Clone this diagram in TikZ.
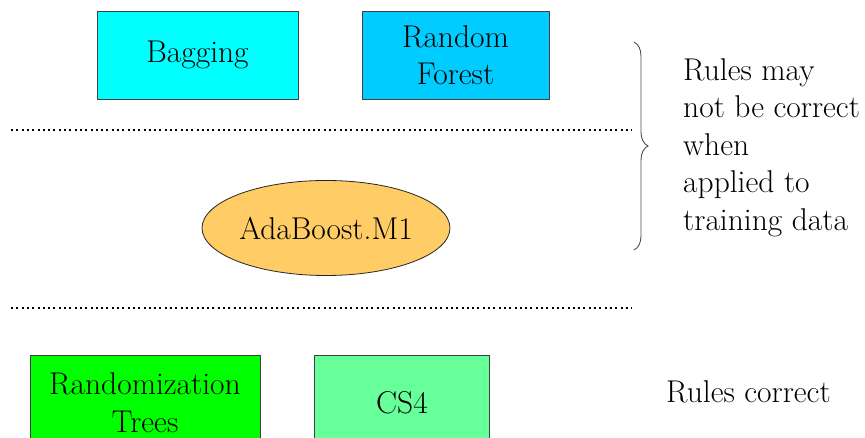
\documentclass[tikz,border=0pt]{standalone}
\usetikzlibrary{shapes.geometric,decorations.pathreplacing}
\definecolor{cBag}{RGB}{0,255,255}
\definecolor{cRF}{RGB}{0,204,255}
\definecolor{cAda}{RGB}{255,204,102}
\definecolor{cRT}{RGB}{0,255,0}
\definecolor{cCS}{RGB}{102,255,153}
\tikzset{
  x=1pt,y=1pt,
  every node/.style={font=\fontsize{31.5}{37.5}\selectfont, inner sep=0pt},
  boxnode/.style={draw=black!75, line width=0.8pt, rectangle, align=center},
  ellnode/.style={draw=black!85, line width=0.8pt, ellipse, align=center},
  sepline/.style={line width=2pt, dash pattern=on 2pt off 3.3pt},
  notetext/.style={align=left, anchor=north west}
}
\begin{document}
\begin{tikzpicture}
\useasboundingbox (0,0) rectangle (865,438);
\clip (0,0) rectangle (865,438);
\node[boxnode, fill=cBag, minimum width=201pt, minimum height=88pt] (bag) at (197.5,383) {Bagging};
\node[boxnode, fill=cRF, minimum width=187pt, minimum height=88pt] (rf) at (455.5,383) {Random\\Forest};
\node[ellnode, fill=cAda, minimum width=248pt, minimum height=95pt] (ada) at (326,210) {AdaBoost.M1};
\node[boxnode, fill=cRT, minimum width=230pt, minimum height=95pt] (rt) at (145,35.5) {Randomization\\Trees};
\node[boxnode, fill=cCS, minimum width=175pt, minimum height=95pt] (cs) at (402,35.5) {CS4};
\coordinate (l1a) at (11,308);
\coordinate (l1b) at (632,308);
\coordinate (l2a) at (11,130);
\coordinate (l2b) at (632,130);
\draw[sepline] (l1a) -- (l1b);
\draw[sepline] (l2a) -- (l2b);
\coordinate (bt) at (634,396);
\coordinate (bb) at (634,188);
\draw[black!70, line width=0.9pt, decorate, decoration={brace, amplitude=14pt}] (bt) -- (bb);
\node[notetext] (note1) at (683,380) {Rules may\\not be correct\\when\\applied to\\training data};
\node[anchor=west] (note2) at (666,46) {Rules correct};
\end{tikzpicture}
\end{document}
